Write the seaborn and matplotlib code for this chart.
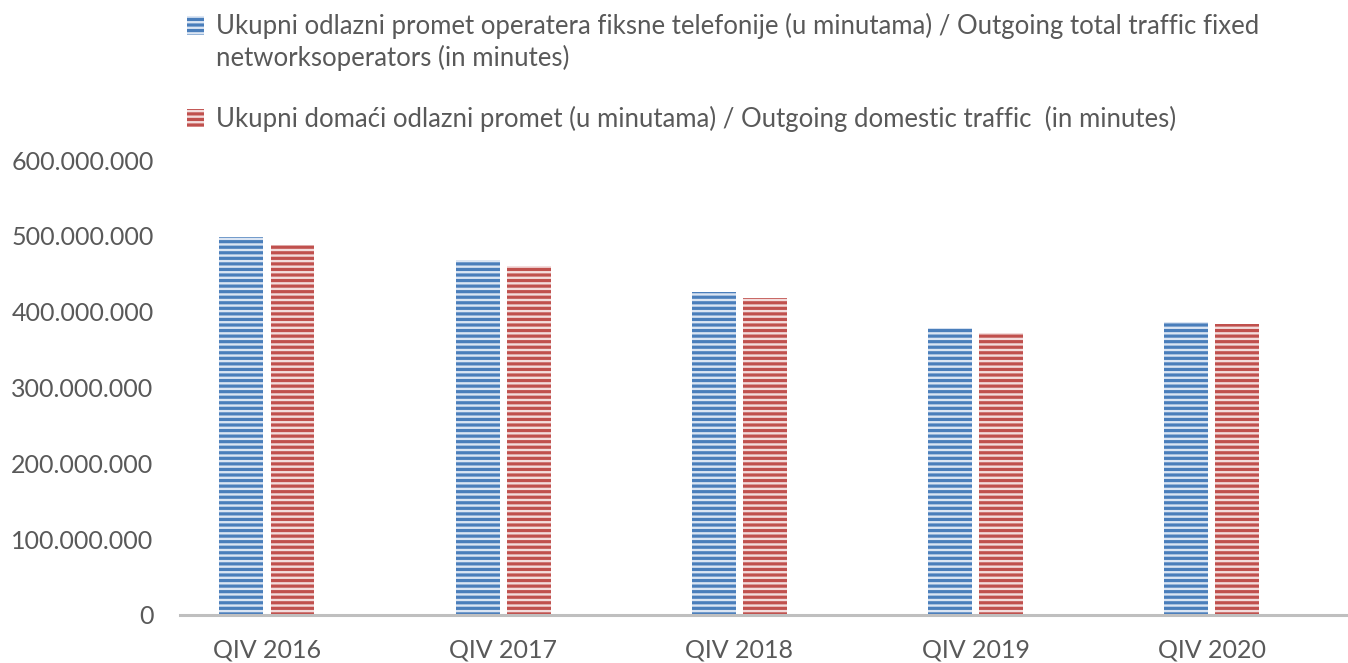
import numpy as np
import pandas as pd
import matplotlib
matplotlib.use("Agg")
import matplotlib.pyplot as plt
import seaborn as sns
from matplotlib.patches import Patch
from matplotlib.ticker import FuncFormatter

sns.set_style("white")
plt.rcParams['font.family'] = ['Lato', 'DejaVu Sans']
plt.rcParams['hatch.linewidth'] = 2.3

# data
quarters = ['QIV 2016', 'QIV 2017', 'QIV 2018', 'QIV 2019', 'QIV 2020']
total_out = [498e6, 468e6, 426e6, 378e6, 387e6]
domestic_out = [488e6, 460e6, 418e6, 372e6, 384e6]
labels = ['Ukupni odlazni promet operatera fiksne telefonije (u minutama) / Outgoing total traffic fixed',
          'Ukupni domaći odlazni promet (u minutama) / Outgoing domestic traffic  (in minutes)']
label_wrap = 'networksoperators (in minutes)'

face_cols = ['#dbe5f3', '#f3dcdc']
line_cols = ['#4a7ebb', '#c0504d']
txt = '#595959'

df = pd.DataFrame({'kvartal': quarters * 2,
                   'minute': total_out + domestic_out,
                   'serija': [labels[0]] * 5 + [labels[1]] * 5})

fig = plt.figure(figsize=(13.48, 6.63), dpi=100)
ax = fig.add_axes([180/1348, 48/663, 1 - 180/1348, (615-160)/663])

sns.barplot(data=df, x='kvartal', y='minute', hue='serija', palette=face_cols,
            width=0.432, gap=0.14, legend=False, ax=ax)

# horizontal stripes on every bar
n = len(quarters)
for i, p in enumerate(ax.patches[:2*n]):
    k = i // n
    p.set_facecolor(face_cols[k])
    p.set_edgecolor(line_cols[k])
    p.set_hatch('---')
    p.set_linewidth(0)

ax.set_ylim(0, 600e6)
ax.set_xlim(-0.368, 4.576)
ax.set_yticks(np.arange(0, 600e6 + 1, 100e6))
ax.yaxis.set_major_formatter(FuncFormatter(lambda v, _: f"{v:,.0f}".replace(',', '.')))
ax.set_xlabel('')
ax.set_ylabel('')
for s in ['top', 'right', 'left']:
    ax.spines[s].set_visible(False)
ax.spines['bottom'].set_color('#bfbfbf')
ax.spines['bottom'].set_linewidth(2.2)
ax.tick_params(axis='y', length=0, pad=19, labelsize=18, labelcolor=txt)
ax.tick_params(axis='x', length=0, pad=17, labelsize=18, labelcolor=txt)

# legend: wrapped first label and the blank row are their own rows
blank = Patch(facecolor='none', edgecolor='none', linewidth=0)
handles = [Patch(facecolor=face_cols[0], edgecolor=line_cols[0], hatch='---', linewidth=0),
           blank, blank,
           Patch(facecolor=face_cols[1], edgecolor=line_cols[1], hatch='---', linewidth=0)]
fig.legend(handles, [labels[0], label_wrap, ' ', labels[1]], loc='upper left',
           bbox_to_anchor=(177/1348, 1 - 3/663),
           frameon=False, fontsize=18.5, labelcolor=txt, handlelength=0.65, handleheight=0.75,
           handletextpad=0.45, labelspacing=0.2, borderaxespad=0)

fig.savefig("out.png", dpi=100)
